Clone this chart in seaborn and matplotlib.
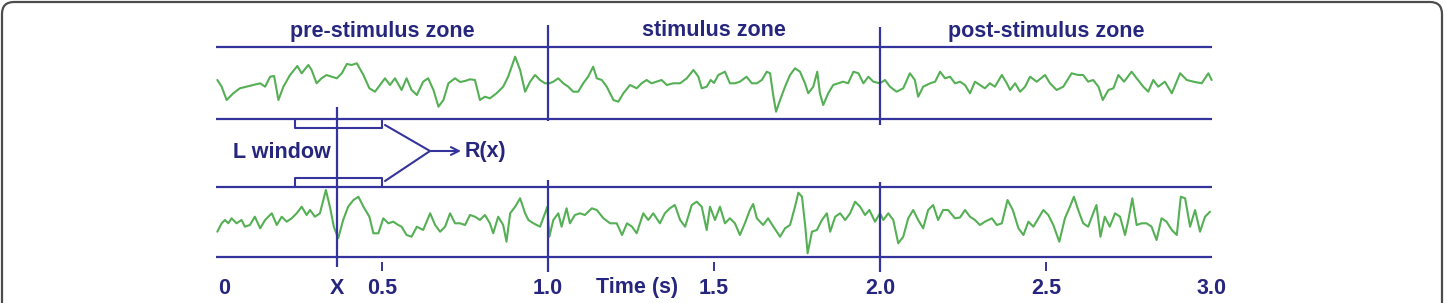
import numpy as np
import pandas as pd
import matplotlib
matplotlib.use("Agg")
import matplotlib.pyplot as plt
import seaborn as sns
from matplotlib.patches import FancyBboxPatch

# ---------------- data ----------------
zone_labels = ["pre-stimulus zone", "stimulus zone", "post-stimulus zone"]
zone_centers = [0.5, 1.5, 2.5]          # s
zone_bounds = [1.0, 2.0]                # s
x_marker = 0.3645                       # s  (position "X")
window = [0.238, 0.5]                   # s  (L window)
tick_pos = [0.0, x_marker, 0.5, 1.0, 1.5, 2.0, 2.5, 3.0]
tick_labels = ["0", "X", "0.5", "1.0", "1.5", "2.0", "2.5", "3.0"]
minor_ticks = [0.5, 1.5, 2.5]
xlabel = "Time (s)"

top_ms = [4, 17, 32, 52, 72, 92, 112, 133, 148, 163,
          175, 188, 203, 223, 245, 258, 278, 288, 303, 318,
          333, 348, 364, 379, 394, 409, 424, 444, 462, 479,
          494, 509, 524, 539, 559, 574, 589, 605, 624, 639,
          655, 670, 685, 700, 720, 735, 750, 765, 780, 795,
          810, 825, 845, 865, 880, 901, 916, 931, 946, 961,
          976, 991, 1004, 1016, 1031, 1046, 1061, 1076, 1091, 1106,
          1121, 1136, 1147, 1162, 1177, 1197, 1212, 1227, 1247, 1267,
          1282, 1297, 1312, 1327, 1342, 1358, 1377, 1398, 1418, 1438,
          1453, 1463, 1478, 1490, 1500, 1513, 1533, 1548, 1563, 1578,
          1598, 1614, 1629, 1644, 1659, 1669, 1679, 1687, 1699, 1714,
          1729, 1744, 1759, 1774, 1784, 1799, 1811, 1819, 1829, 1844,
          1859, 1874, 1889, 1904, 1920, 1935, 1950, 1965, 1980, 2000,
          2015, 2030, 2050, 2070, 2090, 2105, 2115, 2130, 2151, 2166,
          2181, 2196, 2211, 2226, 2241, 2256, 2271, 2286, 2301, 2316,
          2331, 2346, 2367, 2382, 2392, 2407, 2422, 2437, 2452, 2472,
          2497, 2512, 2532, 2552, 2577, 2597, 2612, 2627, 2642, 2658,
          2671, 2688, 2703, 2718, 2735, 2758, 2773, 2793, 2808, 2823,
          2838, 2858, 2879, 2904, 2924, 2944, 2969, 2989, 2999]
top_amp = [5, -1.7, -15, -8.3, -3.3, -1.7, 0, 1.7, -1.7, 8.3,
           9, -15, -1.7, 10, 19, 11.7, 20, 15, 1.7, 6.7,
           10, 8.3, 6.7, 11.7, 21, 20, 21.7, 10, -3.3, -6.7,
           0, 6.7, 0, 6.7, -5, 6.7, -5, -10, 3.3, 6.7,
           -5, -21.7, -15, 1.7, 6.7, 3, 4, 5.7, 5, -15,
           -11.7, -13.3, -8.3, -1.7, 8.3, 28.3, 15, -6.7, 3.3, 10,
           5, 1.7, 1.7, 3.3, 6.7, 1.7, -1.7, -6.7, -6.7, 1.7,
           8.3, 18.3, 6.7, 5, -1.7, -15, -16.7, -8.3, 0, -3.3,
           1.7, 5, 1.7, 3.3, 5, 0, 1.7, 1.7, 6.7, 15,
           8.3, -3.3, -1.7, 5, 2, 10, 13.3, 1.7, 1.7, 3.3,
           8.3, 1.7, 1.7, 5, 13.3, 11.7, -11.7, -26.7, -15, -1.7,
           10, 16.7, 13.3, 1.7, -8.3, -1.7, 13.3, -8.3, -20, -8.3,
           0, 1.7, 3.3, 1.7, 13.3, 11.7, 1.7, 8.3, 3.3, 1.7,
           5, -1.7, -6.7, -3.3, 11.7, 5, -11.7, -1.7, 1.7, 3.3,
           13.3, 6.7, 8.3, 1.7, 3.3, 0, -8.3, 3.3, 0, -3.3,
           1.7, -1.7, 10, 1.7, -5, 1.7, -6.7, -1.7, 8.3, 3.3,
           10, 1.7, -5, -1.7, 11.7, 10, 10, 3.3, 5, -1.7,
           -15, -5, -3.3, 10, 3.3, 13.3, 6.7, -1.7, -6.7, 5,
           -1.7, 3.3, -8.3, 11.7, 5, 3.3, 1.7, 11.7, 5]

bot_ms = [4, 17, 27, 37, 47, 62, 77, 87, 102, 117,
          133, 148, 168, 183, 198, 213, 228, 243, 258, 273,
          283, 298, 313, 331, 343, 355, 368, 383, 398, 414,
          429, 444, 462, 474, 489, 504, 519, 534, 549, 559,
          574, 589, 605, 624, 645, 660, 675, 690, 705, 720,
          735, 750, 765, 780, 795, 810, 825, 835, 850, 865,
          875, 886, 901, 916, 931, 941, 956, 976, 991, 998,
          1004, 1016, 1031, 1041, 1056, 1066, 1081, 1096, 1111, 1132,
          1147, 1167, 1187, 1207, 1223, 1238, 1253, 1267, 1287, 1302,
          1317, 1337, 1352, 1367, 1382, 1398, 1413, 1433, 1448, 1463,
          1478, 1488, 1503, 1518, 1533, 1548, 1563, 1578, 1593, 1608,
          1618, 1629, 1648, 1663, 1679, 1699, 1714, 1729, 1744, 1754,
          1765, 1775, 1782, 1795, 1810, 1825, 1840, 1850, 1865, 1880,
          1895, 1910, 1925, 1940, 1955, 1968, 1985, 2000, 2010, 2025,
          2040, 2055, 2070, 2085, 2100, 2115, 2130, 2145, 2160, 2175,
          2190, 2205, 2226, 2241, 2256, 2271, 2286, 2301, 2316, 2337,
          2352, 2367, 2384, 2400, 2417, 2432, 2447, 2462, 2477, 2492,
          2507, 2522, 2540, 2557, 2572, 2584, 2597, 2612, 2627, 2642,
          2652, 2664, 2677, 2692, 2708, 2723, 2738, 2748, 2760, 2773,
          2788, 2803, 2818, 2833, 2848, 2863, 2879, 2894, 2906, 2919,
          2934, 2949, 2964, 2979, 2994]
bot_amp = [-9.7, -1.3, 2, -1.3, 3.7, -1.3, 2, -4.7, -3, 5.3,
           -6.3, 2, 8.7, -3, 5.3, 0.3, 3.7, 8.7, 15.3, 7,
           12, 5.3, 8.7, 32, 15.3, -4.7, -16.3, 2, 15.3, 22,
           25.3, 15.3, 5.3, -11.3, -11.3, 3.7, -1.3, 0.3, -3, -4.7,
           -13, -14.7, -4.7, -8, 8.7, -3, -9.7, -4.7, 8.7, -1.3,
           -1.3, -3, 7, 5.3, 2, 7, -1.3, -11.3, 5.3, -3,
           -19.7, 8.7, 15.3, 23.7, 8.7, 2, -1.3, -4.7, 8.7, 15.3,
           -14.7, 2, 8.7, -4.7, 13.7, -1.3, 7, 8.7, 7, 13.7,
           12, 3.7, -1.3, -1.3, -13, -1.3, -4.7, -11.3, 8.7, 2,
           8.7, -1.3, 8.7, 13.7, 17, 2, -4.7, 17, 20.3, 15.3,
           -8, 15.3, 2, 15.3, -1.3, 3.7, -1.3, -13, -1.3, 12,
           18, 3.7, -3, 3.7, -4.7, -14.7, -6.3, -3, 15.3, 29.3,
           25.3, -4.7, -31.3, -9.7, -8, 2, 8.7, -9.7, 5.3, 8.7,
           2, 8.7, 20.3, 15.3, 7, 12, 0.3, 8.7, 2, 8.7,
           2, -21.3, -14.7, 3.7, 12, 2, -6.3, 12, 17, 2,
           12, 12, 3.7, 4.5, 12, 5.3, 2, -3, 0.3, 3.7,
           -3, -1.3, 22, 12, -6.3, -13, 0.3, -4.7, 3.7, 12,
           7, -3, -19.7, 3.7, 15.3, 25.3, 12, -1.3, -4.7, 8.7,
           17, -14.7, 5.3, -4.7, 8.7, 5.3, -13, 2, 23.7, -3,
           -1.3, -1.3, -4.7, -18, 3.7, 0.3, -8, -13, 25.3, 23.7,
           -4.7, 12, -9.7, 5.3, 10.3]

# ---------------- style ----------------
NAVY = "#34349c"
TXT = "#26267e"
GREEN = "#55b055"
FS = 15.5

sns.set_theme(style="white")
plt.rcParams['font.family'] = ['Liberation Sans', 'DejaVu Sans']

W, H = 1450, 303
fig = plt.figure(figsize=(W / 100, H / 100), dpi=100)

# frame axes (pixel coordinates)
ax0 = fig.add_axes([0, 0, 1, 1])
ax0.set_xlim(0, W)
ax0.set_ylim(H, 0)
ax0.axis('off')
ax0.add_patch(FancyBboxPatch((2, 2), 1440, 330,
                             boxstyle="round,pad=0,rounding_size=12",
                             fc="white", ec="#4d4d4d", lw=1.6))

# main axes: x in seconds, y in layout units (pixel rows)
ax = fig.add_axes([0, 0, 1, 1])
ax.patch.set_alpha(0)
PX0, PXS = 216, 332
ax.set_xlim(-PX0 / PXS, (W - PX0) / PXS)
ax.set_ylim(H, 0)
ax.axis('off')

TOP_C, BOT_C = 85, 222
df_top = pd.DataFrame({"t": np.array(top_ms) / 1000.0, "v": TOP_C - np.array(top_amp)})
df_bot = pd.DataFrame({"t": np.array(bot_ms) / 1000.0, "v": BOT_C - np.array(bot_amp)})
sns.lineplot(data=df_top, x="t", y="v", ax=ax, color=GREEN, lw=1.5, sort=False)
sns.lineplot(data=df_bot, x="t", y="v", ax=ax, color=GREEN, lw=1.5, sort=False)
ax.set_xlim(-PX0 / PXS, (W - PX0) / PXS)
ax.set_ylim(H, 0)
ax.axis('off')

# structure lines
ax.hlines([47, 119, 187, 257], 0, 3.0, color=NAVY, lw=1.6)
ax.vlines(zone_bounds[0], 25, 121, color=NAVY, lw=1.6)
ax.vlines(zone_bounds[0], 180, 272, color=NAVY, lw=1.6)
ax.vlines(zone_bounds[1], 27, 125, color=NAVY, lw=1.6)
ax.vlines(zone_bounds[1], 182, 272, color=NAVY, lw=1.6)
ax.vlines(x_marker, 107, 267, color=NAVY, lw=1.6)
ax.vlines(minor_ticks, 262, 271, color=NAVY, lw=1.4)

# L windows
w0, w1 = window
ax.plot([w0, w0, w1, w1], [119, 128, 128, 119], color=NAVY, lw=1.5)
ax.plot([w0, w0, w1, w1], [187, 178, 178, 187], color=NAVY, lw=1.5)
jx = (430 - PX0) / PXS
ax.plot([(385 - PX0) / PXS, jx, (385 - PX0) / PXS], [125, 151, 181], color=NAVY, lw=1.5)
ax.annotate("", xy=((461 - PX0) / PXS, 151), xytext=(jx, 151),
            arrowprops=dict(arrowstyle="->", color=NAVY, lw=1.5, mutation_scale=14,
                            shrinkA=0, shrinkB=0))
ax.text((465 - PX0) / PXS, 152, "R(x)", ha="left", va="center",
        fontsize=FS, fontweight="bold", color=TXT)
ax.text((282 - PX0) / PXS, 152, "L window", ha="center", va="center",
        fontsize=FS, fontweight="bold", color=TXT)

# zone labels
for lab, c in zip(zone_labels, zone_centers):
    ax.text(c, 31, lab, ha="center", va="center", fontsize=FS, fontweight="bold", color=TXT)

# tick labels
for p, lab in zip(tick_pos, tick_labels):
    ax.text(p + (0.025 if lab == "0" else 0), 288, lab, ha="center", va="center",
            fontsize=FS, fontweight="bold", color=TXT)
ax.text((637 - PX0) / PXS, 288, xlabel, ha="center", va="center",
        fontsize=FS, fontweight="bold", color=TXT)

fig.savefig("out.png", dpi=100)
